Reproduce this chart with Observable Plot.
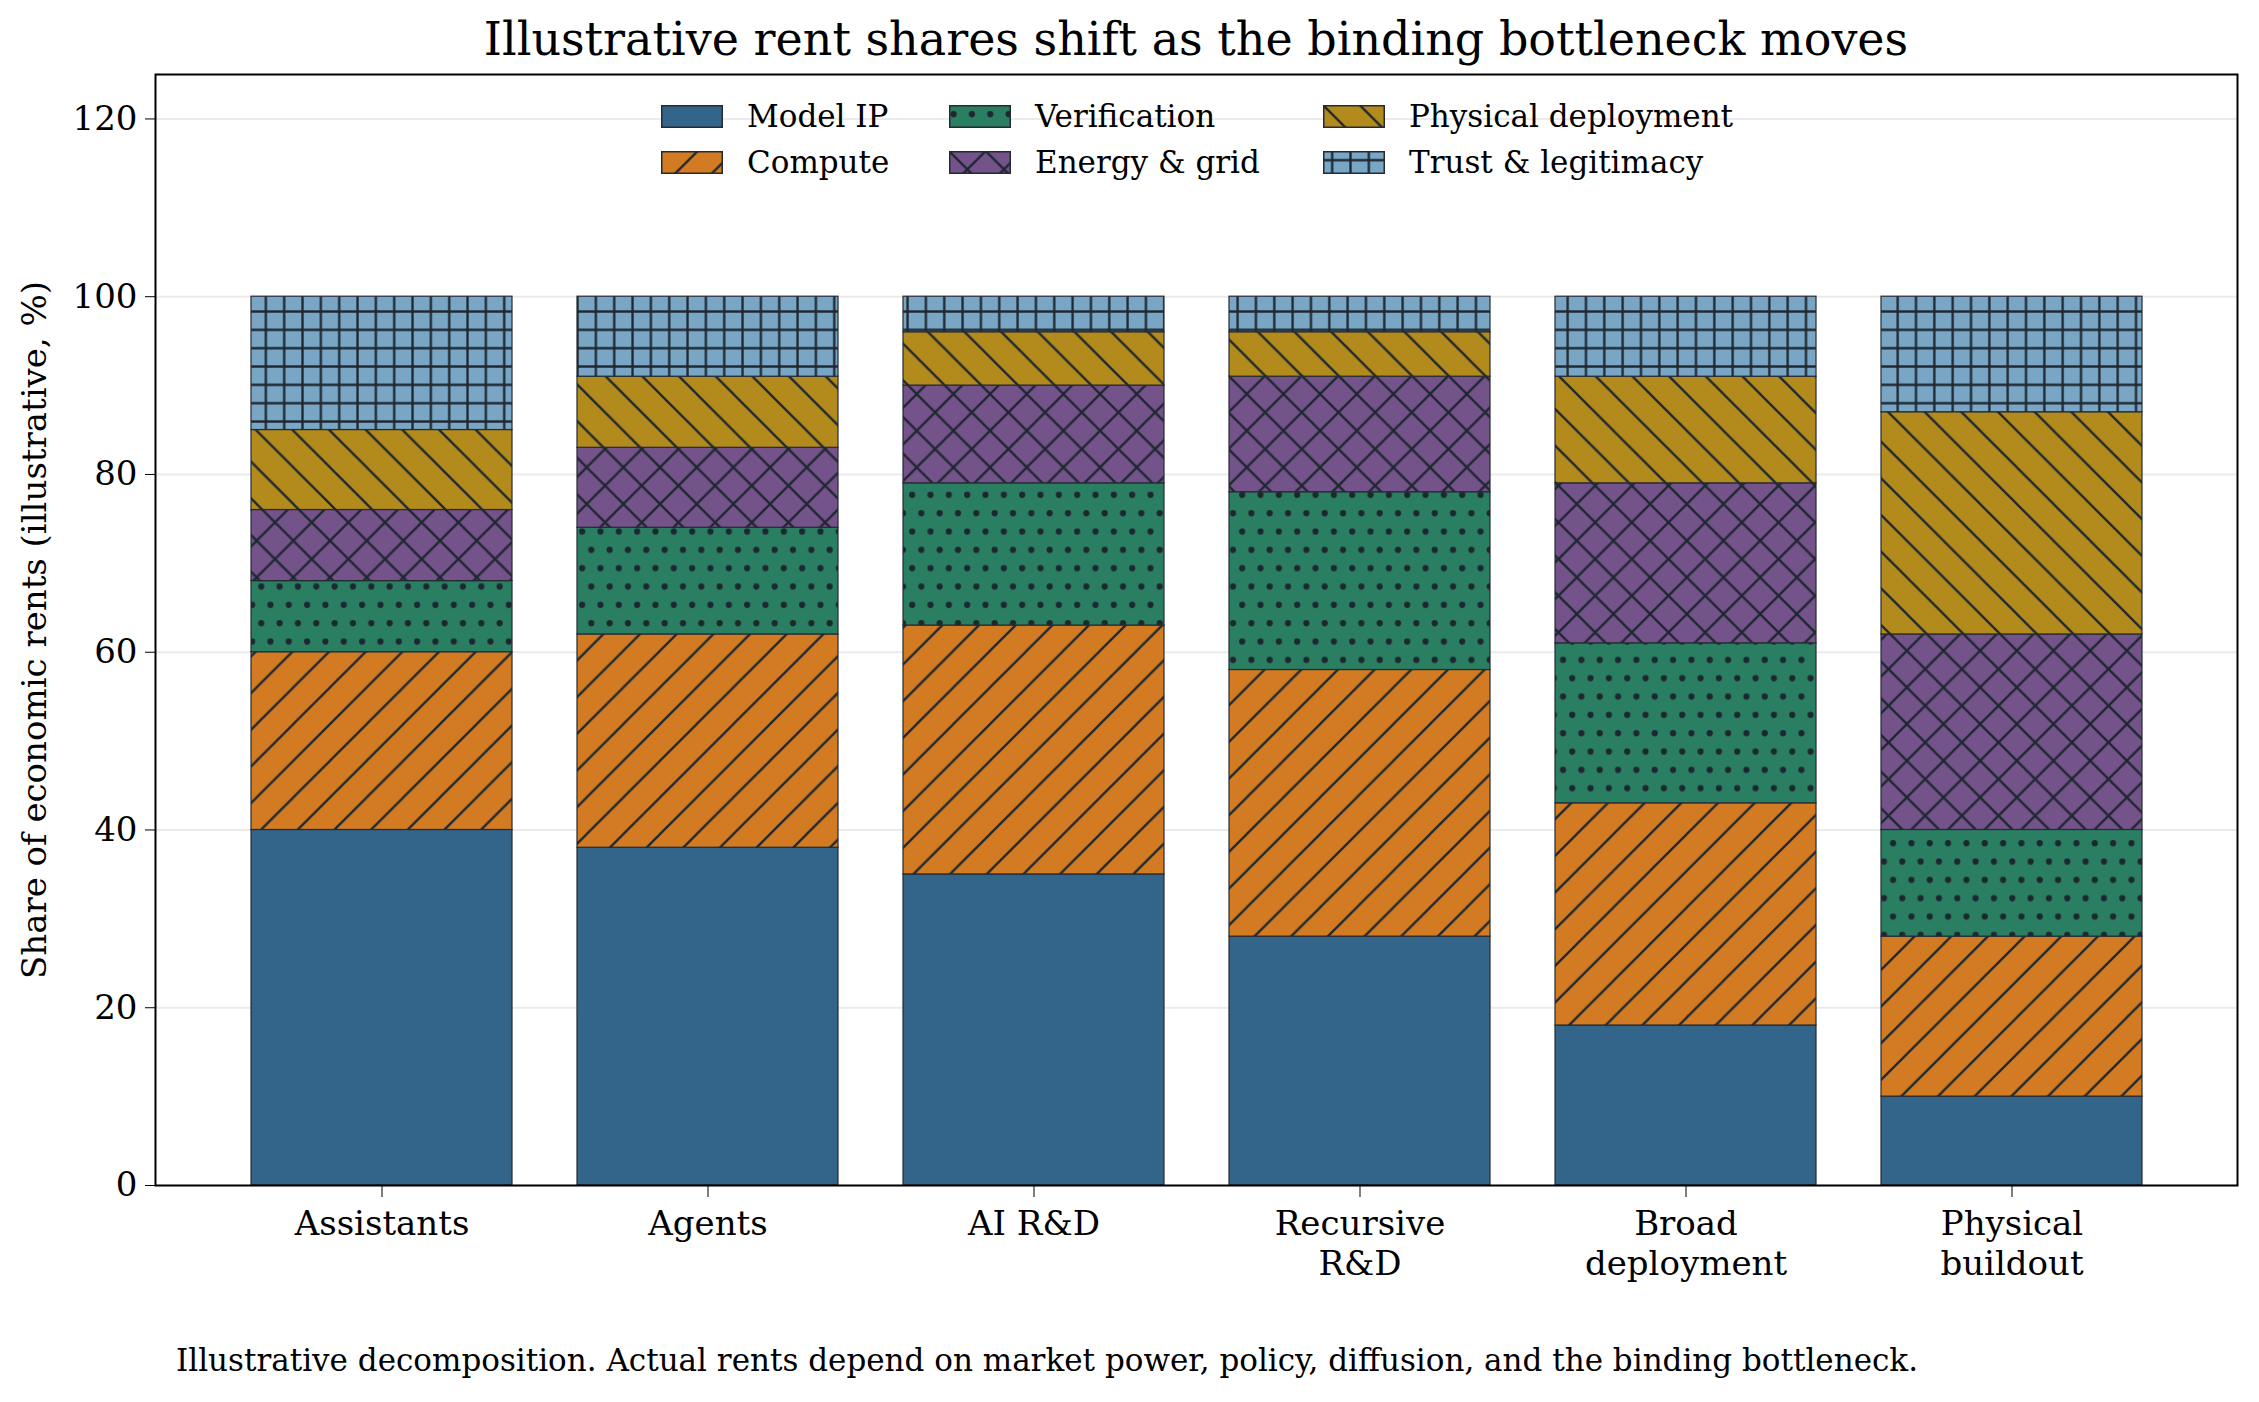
<!DOCTYPE html>
<html>
<head>
<meta charset="utf-8">
<script src="https://cdn.jsdelivr.net/npm/d3@7"></script>
<script src="https://cdn.jsdelivr.net/npm/@observablehq/plot@0.6"></script>
<style>
  html, body { margin: 0; padding: 0; background: #fff; }
  #wrap { position: relative; width: 2259px; height: 1402px; font-family: "DejaVu Serif", serif; color: #000; }
  #title { position: absolute; left: 155px; width: 2082px; top: 16px; text-align: center; font-size: 46px; line-height: 46px; white-space: nowrap; }
  #chart { position: absolute; left: 0; top: 64px; }
  #caption { position: absolute; left: 176px; top: 1345px; font-size: 31px; line-height: 31px; white-space: nowrap; }
  .leg { position: absolute; display: flex; align-items: center; height: 40px; font-size: 31px; white-space: nowrap; }
  .leg svg { margin-right: 24px; display: block; }
</style>
</head>
<body>
<div id="wrap">
  <div id="title"></div>
  <div id="chart"></div>
  <div id="legend"></div>
  <div id="caption"></div>
</div>
<script>
// ---- data ----
const titleText = "Illustrative rent shares shift as the binding bottleneck moves";
const captionText = "Illustrative decomposition. Actual rents depend on market power, policy, diffusion, and the binding bottleneck.";
const yLabel = "Share of economic rents (illustrative, %)";
const stages = ["Assistants", "Agents", "AI R&D", "Recursive\nR&D", "Broad\ndeployment", "Physical\nbuildout"];
const series = ["Model IP", "Compute", "Verification", "Energy & grid", "Physical deployment", "Trust & legitimacy"];
const modelIP      = [40, 38, 35, 28, 18, 10];
const compute      = [20, 24, 28, 30, 25, 18];
const verification = [8, 12, 16, 20, 18, 12];
const energyGrid   = [8, 9, 11, 13, 18, 22];
const physicalDep  = [9, 8, 6, 5, 12, 25];
const trustLegit   = [15, 9, 4, 4, 9, 13];
const yTicks = [0, 20, 40, 60, 80, 100, 120];

// ---- styles ----
const baseColors = ["#33658A", "#D27B22", "#2A7F62", "#74528A", "#B38B1C", "#79A6C4"];
const hatchKinds = [null, "fwd", "dots", "cross", "back", "grid"];
const hatchColor = "#1e2730";
const S = 36.67;   // hatch period (px)
const HW = 2.3;    // hatch line width

const values = [modelIP, compute, verification, energyGrid, physicalDep, trustLegit];
const rows = [];
series.forEach((s, si) => stages.forEach((st, i) => rows.push({stage: st, series: s, value: values[si][i]})));

const fills = series.map((s, i) => hatchKinds[i] ? `url(#hatch-${i})` : baseColors[i]);

function makeDefs() {
  const ns = "http://www.w3.org/2000/svg";
  const defs = document.createElementNS(ns, "defs");
  hatchKinds.forEach((kind, i) => {
    if (!kind) return;
    const p = document.createElementNS(ns, "pattern");
    p.setAttribute("id", `hatch-${i}`);
    p.setAttribute("patternUnits", "userSpaceOnUse");
    let w = S, h = S;
    if (kind === "dots") { w = S / 2; h = S; }
    if (kind === "grid") { w = S / 2; h = S / 2; }
    p.setAttribute("width", w);
    p.setAttribute("height", h);
    const bg = document.createElementNS(ns, "rect");
    bg.setAttribute("width", w); bg.setAttribute("height", h);
    bg.setAttribute("fill", baseColors[i]);
    p.appendChild(bg);
    const addPath = (d) => {
      const pa = document.createElementNS(ns, "path");
      pa.setAttribute("d", d);
      pa.setAttribute("stroke", hatchColor);
      pa.setAttribute("stroke-width", HW);
      pa.setAttribute("fill", "none");
      p.appendChild(pa);
    };
    const fwd = `M0,${S} L${S},0 M${-S/2},${S/2} L${S/2},${-S/2} M${S/2},${1.5*S} L${1.5*S},${S/2}`;
    const back = `M0,0 L${S},${S} M${-S/2},${S/2} L${S/2},${1.5*S} M${S/2},${-S/2} L${1.5*S},${S/2}`;
    if (kind === "fwd") addPath(fwd);
    if (kind === "back") addPath(back);
    if (kind === "cross") { addPath(fwd); addPath(back); }
    if (kind === "grid") addPath(`M0,${h/2} L${w},${h/2} M${w/2},0 L${w/2},${h}`);
    if (kind === "dots") {
      [[w / 4, h / 4], [3 * w / 4, 3 * h / 4]].forEach(([cx, cy]) => {
        const c = document.createElementNS(ns, "circle");
        c.setAttribute("cx", cx); c.setAttribute("cy", cy); c.setAttribute("r", 3.1);
        c.setAttribute("fill", hatchColor);
        p.appendChild(c);
      });
    }
    defs.appendChild(p);
  });
  return defs;
}

const chart = Plot.plot({
  width: 2259,
  height: 1256,
  marginTop: 10,
  marginBottom: 135,
  marginLeft: 155,
  marginRight: 22,
  style: {fontFamily: "DejaVu Serif", background: "transparent", color: "#000"},
  x: {type: "band", domain: stages, paddingInner: 0.2, paddingOuter: 0.29, label: null},
  y: {domain: [0, 125], label: null},
  color: {type: "ordinal", domain: series, range: fills},
  marks: [
    Plot.gridY(yTicks, {stroke: "#ebebeb", strokeOpacity: 1, strokeWidth: 2}),
    Plot.barY(rows, {x: "stage", y: "value", fill: "series", stroke: "#252a33", strokeWidth: 1.2, order: null}),
    Plot.frame({stroke: "#000", strokeWidth: 2}),
    Plot.axisY({ticks: yTicks, tickSize: 10, tickPadding: 8, fontSize: 34, label: yLabel, labelAnchor: "center", labelArrow: "none", labelOffset: 134}),
    Plot.axisX({tickSize: 12, tickPadding: 9, fontSize: 34, lineHeight: 1.18, label: null, tickFormat: d => d})
  ]
});
chart.insertBefore(makeDefs(), chart.firstChild);
document.getElementById("chart").appendChild(chart);

document.getElementById("title").textContent = titleText;
document.getElementById("caption").textContent = captionText;

// legend (3 columns, column-major like matplotlib)
const legCols = [661, 949, 1323];
const legRowCenters = [116, 162];
const legend = document.getElementById("legend");
series.forEach((s, i) => {
  const col = Math.floor(i / 2), row = i % 2;
  const item = document.createElement("div");
  item.className = "leg";
  item.style.left = legCols[col] + "px";
  item.style.top = (legRowCenters[row] - 20) + "px";
  item.innerHTML = `<svg width="62" height="23" viewBox="0 0 62 23"><rect x="0.75" y="0.75" width="60.5" height="21.5" fill="${fills[i]}" stroke="#252a33" stroke-width="1.5"/></svg><span></span>`;
  item.querySelector("span").textContent = s;
  legend.appendChild(item);
});
</script>
</body>
</html>
